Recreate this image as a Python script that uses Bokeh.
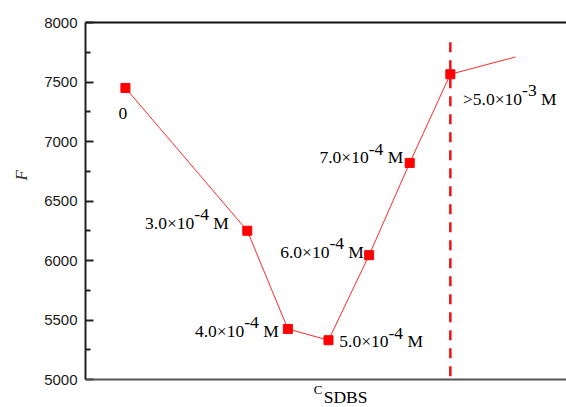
from bokeh.plotting import figure
from bokeh.models import ColumnDataSource, LinearAxis, Range1d, FixedTicker, Span, Title
from bokeh.core.properties import value
from bokeh.embed import file_html
from bokeh.resources import INLINE

# ---------------- data ----------------
conc_pos = [0, 3, 4, 5, 6, 7, 8]            # position of each SDBS concentration on the x axis
F_values = [7450, 6250, 5425, 5330, 6045, 6820, 7565]
tail_pos = 9.6                               # line continues past the last point (no marker)
tail_F = 7710
cmc_pos = 8                                  # dashed vertical line
cmc_top = 7835
label_main = ["0", "3.0×10", "4.0×10", "5.0×10", "6.0×10", "7.0×10", ">5.0×10"]
label_exp = ["", "-4", "-4", "-4", "-4", "-4", "-3"]
label_unit = ["", "M", "M", "M", "M", "M", "M"]
y_ticks = [5000, 5500, 6000, 6500, 7000, 7500, 8000]
y_title = "F"
x_title_main = "C"
x_title_sub = "SDBS"

# ---------------- layout / style ----------------
W, H = 566, 407
LEFT, TOP = 84, 22
AXIS_H = 357.0                     # pixel height of the 5000..8000 span
X_START, X_END = -0.983, 10.86
Y_START, Y_END = y_ticks[0], y_ticks[-1]
Y_LOW = Y_END - (H - TOP) * (Y_END - Y_START) / AXIS_H   # frame extends below the axis
X_MID = (X_START + X_END) / 2
SERIF = "Liberation Serif"
SANS = "Liberation Sans"
FS = 17.5
SUP_RAISE = 8
BASE_FIX = -5.5
# label anchor offsets (pixels) relative to each point
lab_dx = [-2.5, -18.4, -9.2, 10.8, -5.2, -6.5, 12.6]
lab_dy = [31, -2.6, 7.5, 6.5, 2.3, 0, 30]
lab_align = ["center", "right", "right", "left", "right", "right", "left"]

TIMES = {'.': 0.25, '×': 0.564, '-': 0.333, '>': 0.564, ' ': 0.25, 'M': 0.889}
for d in "0123456789":
    TIMES[d] = 0.5


def tw(s):
    return sum(TIMES.get(c, 0.5) for c in s) * FS


p = figure(width=W, height=H, output_backend="svg", toolbar_location=None,
           x_range=Range1d(X_START, X_END), y_range=Range1d(Y_LOW, Y_END),
           min_border_left=LEFT, min_border_right=0, min_border_top=TOP,
           min_border_bottom=0, x_axis_location=None)
p.outline_line_color = None
p.grid.visible = False
p.background_fill_color = "white"
p.border_fill_color = "white"

# y axis
minor = [(a + b) / 2 for a, b in zip(y_ticks[:-1], y_ticks[1:])]
p.yaxis.ticker = FixedTicker(ticks=y_ticks, minor_ticks=minor)
p.yaxis.bounds = (Y_START, Y_END)
p.yaxis.axis_line_color = "#222222"
p.yaxis.axis_line_width = 2
p.yaxis.major_tick_line_color = "#222222"
p.yaxis.major_tick_line_width = 2
p.yaxis.minor_tick_line_color = "#222222"
p.yaxis.minor_tick_line_width = 2
p.yaxis.major_tick_in = 8
p.yaxis.major_tick_out = 0
p.yaxis.minor_tick_in = 5
p.yaxis.minor_tick_out = 0
p.yaxis.major_label_standoff = 8
p.yaxis.major_label_text_font = SANS
p.yaxis.major_label_text_font_size = "15px"
p.yaxis.major_label_text_color = "#1a1a1a"

# y title (measured from the bottom of the side panel)
p.add_layout(Title(text=y_title, align="left", offset=227, standoff=20,
                   vertical_align="middle",
                   text_font=SERIF, text_font_style="italic",
                   text_font_size="17px", text_color="#333333"), "left")

# top border line
top = LinearAxis(ticker=FixedTicker(ticks=[]), axis_line_color="#111111",
                 axis_line_width=2, major_label_text_font_size="0px")
p.add_layout(top, "above")

# bottom axis line
p.add_layout(Span(location=Y_START, dimension="width", line_color="#555555",
                  line_width=2))

# data line and markers
p.line(conc_pos + [tail_pos], F_values + [tail_F], line_color="#ff2a2a", line_width=1)
p.scatter(conc_pos, F_values, marker="square", size=9, fill_color="#ff0000",
          line_color="#ff0000")
p.segment(x0=[cmc_pos], y0=[cmc_top], x1=[cmc_pos], y1=[Y_START],
          line_color="#ee1111", line_width=2.5, line_dash="10 8")

# point labels (main text, raised exponent, unit)
xs, ys, texts, xo, yo = [], [], [], [], []
GAP = TIMES[' '] * FS
for i in range(len(conc_pos)):
    pieces = [(label_main[i], 0, 0), (label_exp[i], -SUP_RAISE, 0),
              (label_unit[i], 0, GAP if label_unit[i] else 0)]
    total = sum(tw(t) + g for t, _, g in pieces)
    if lab_align[i] == "left":
        start = lab_dx[i]
    elif lab_align[i] == "right":
        start = lab_dx[i] - total
    else:
        start = lab_dx[i] - total / 2
    cur = start
    for t, raise_, gap in pieces:
        cur += gap
        if t:
            xs.append(conc_pos[i]); ys.append(F_values[i]); texts.append(t)
            xo.append(cur); yo.append(lab_dy[i] + raise_ + BASE_FIX)
        cur += tw(t)

src = ColumnDataSource(dict(x=xs, y=ys, text=texts, xo=xo, yo=yo))
p.text(x="x", y="y", text="text", x_offset="xo", y_offset="yo", source=src,
       text_font=value(SERIF), text_font_size=f"{FS}px", text_align="left",
       text_baseline="alphabetic", text_color="#000000")

# x title  C_SDBS (C small and raised, SDBS larger)
p.text(x=[X_MID], y=[Y_START], text=[x_title_main], x_offset=-12.3,
       y_offset=15.5 + BASE_FIX, text_font=value(SERIF), text_font_size="13px",
       text_align="left", text_baseline="alphabetic", text_color="#000000")
p.text(x=[X_MID], y=[Y_START], text=[x_title_sub], x_offset=-2.3,
       y_offset=22.7 + BASE_FIX, text_font=value(SERIF), text_font_size="17.5px",
       text_align="left", text_baseline="alphabetic", text_color="#000000")

open("out.html", "w").write(file_html(p, INLINE))
